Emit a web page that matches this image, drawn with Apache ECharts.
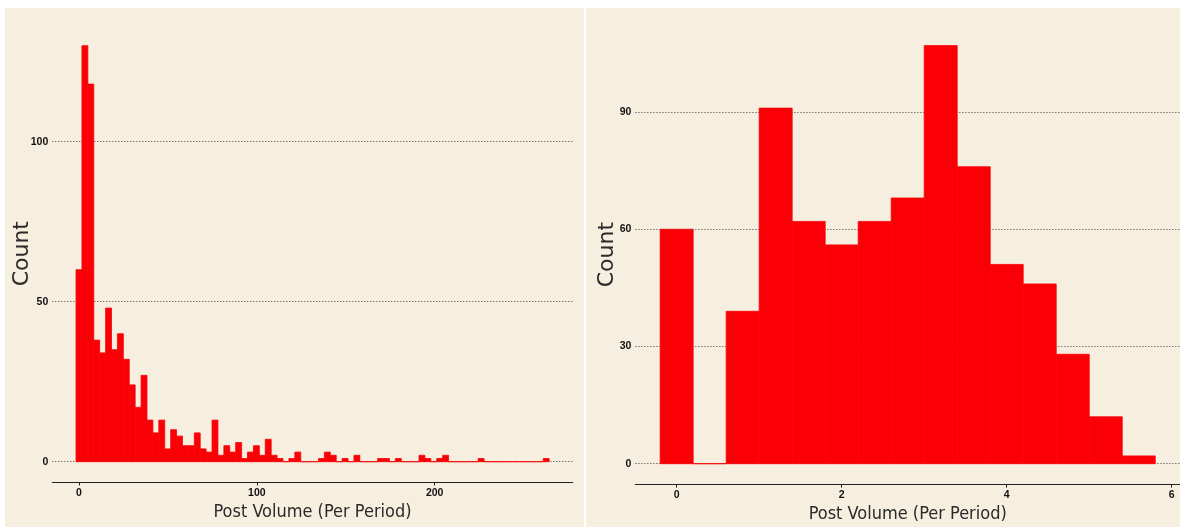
<!DOCTYPE html>
<html>
<head>
<meta charset="utf-8">
<script src="https://cdn.jsdelivr.net/npm/echarts@6/dist/echarts.min.js"></script>
<style>
html, body { margin: 0; padding: 0; background: #ffffff; }
#histChart { width: 1180px; height: 530px; }
</style>
</head>
<body>
<div id="histChart"></div>
<script>
// left panel: raw post volume per period, 80 bins
var rawBinStart = -1.66;
var rawBinWidth = 3.325;
var rawCounts = [60, 130, 118, 38, 34, 48, 35, 40, 32, 24, 17, 27, 13, 9, 13, 4, 10, 8, 5, 5,
	9, 4, 3, 13, 2, 5, 3, 6, 1, 3, 5, 2, 7, 2, 1, 0, 1, 3, 0, 0,
	0, 1, 3, 2, 0, 1, 0, 2, 0, 0, 0, 1, 1, 0, 1, 0, 0, 0, 2, 1,
	0, 1, 2, 0, 0, 0, 0, 0, 1, 0, 0, 0, 0, 0, 0, 0, 0, 0, 0, 1];
var rawXTicks = [0, 100, 200];
var rawYTicks = [0, 50, 100];

// right panel: transformed post volume, 15 bins
var logBinStart = -0.2;
var logBinWidth = 0.4;
var logCounts = [60, 0, 39, 91, 62, 56, 62, 68, 107, 76, 51, 46, 28, 12, 2];
var logXTicks = [0, 2, 4, 6];
var logYTicks = [0, 30, 60, 90];

var xTitle = 'Post Volume (Per Period)';
var yTitle = 'Count';

var barColor = '#fa0006';
var panelColor = '#f6eedf';

var chartDom = document.getElementById('histChart');
var myChart = echarts.init(chartDom);

// bins -> [start, end, count]
function toBins(start, width, counts) {
	return counts.map(function (c, i) {
		return [start + i * width, start + (i + 1) * width, c];
	});
}

function renderBin(params, api) {
	var p0 = api.coord([api.value(0), api.value(2)]);
	var p1 = api.coord([api.value(1), 0]);
	return {
		type: 'rect',
		shape: { x: p0[0], y: p0[1], width: p1[0] - p0[0], height: p1[1] - p0[1] },
		style: { fill: barColor, stroke: barColor, lineWidth: 0.8 }
	};
}

var xTitleStyle = {
	fontFamily: "'DejaVu Sans Condensed', sans-serif",
	fontSize: 18,
	color: '#2a2a2a'
};

var yTitleStyle = {
	fontFamily: "'DejaVu Sans', sans-serif",
	fontSize: 22,
	color: '#2a2a2a'
};

var tickLabelStyle = {
	fontFamily: "'Liberation Sans', sans-serif",
	fontSize: 10.5,
	fontWeight: 'bold',
	color: '#111111'
};

function makeXAxis(gridIndex, min, max, ticks) {
	return {
		type: 'value',
		gridIndex: gridIndex,
		min: min,
		max: max,
		name: xTitle,
		nameLocation: 'middle',
		nameGap: 19,
		nameTextStyle: xTitleStyle,
		axisLine: { onZero: false, lineStyle: { color: '#222222', width: 1.2 } },
		axisTick: { customValues: ticks, length: 3, lineStyle: { color: '#222222' } },
		axisLabel: Object.assign({ customValues: ticks, margin: 5 }, tickLabelStyle),
		splitLine: { show: false }
	};
}

function makeYAxis(gridIndex, min, max, ticks, gap) {
	return {
		type: 'value',
		gridIndex: gridIndex,
		min: min,
		max: max,
		name: yTitle,
		nameLocation: 'middle',
		nameGap: gap,
		nameMoveOverlap: false,
		nameTextStyle: yTitleStyle,
		axisLine: { show: false },
		axisTick: { show: false, customValues: ticks },
		axisLabel: Object.assign({ customValues: ticks, margin: 4 }, tickLabelStyle),
		splitLine: { show: true, lineStyle: { color: '#3a3a3a', type: [1, 2], width: 1 } }
	};
}

var option = {
	backgroundColor: '#ffffff',
	animation: false,
	graphic: [
		{ type: 'rect', z: -10, shape: { x: 5, y: 8, width: 579, height: 519 }, style: { fill: panelColor } },
		{ type: 'rect', z: -10, shape: { x: 586, y: 8, width: 594, height: 519 }, style: { fill: panelColor } }
	],
	grid: [
		{ left: 52.3, top: 24.9, width: 520.4, height: 457.6 },
		{ left: 635.4, top: 24.7, width: 544.6, height: 459.9 }
	],
	xAxis: [
		makeXAxis(0, -15, 277.6, rawXTicks),
		makeXAxis(1, -0.5, 6.1, logXTicks)
	],
	yAxis: [
		makeYAxis(0, -6.5, 136.5, rawYTicks, 19),
		makeYAxis(1, -5.35, 112.35, logYTicks, 17)
	],
	series: [
		{
			type: 'custom',
			xAxisIndex: 0,
			yAxisIndex: 0,
			renderItem: renderBin,
			encode: { x: [0, 1], y: 2 },
			data: toBins(rawBinStart, rawBinWidth, rawCounts)
		},
		{
			type: 'custom',
			xAxisIndex: 1,
			yAxisIndex: 1,
			renderItem: renderBin,
			encode: { x: [0, 1], y: 2 },
			data: toBins(logBinStart, logBinWidth, logCounts)
		}
	]
};

myChart.setOption(option);
</script>
</body>
</html>
